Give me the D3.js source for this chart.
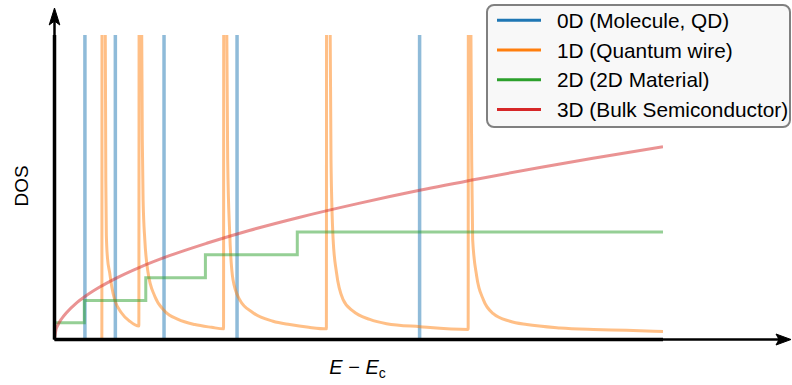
<!DOCTYPE html>
<html>
<head>
<meta charset="utf-8">
<script src="https://cdn.jsdelivr.net/npm/d3@7"></script>
<style>
  body { margin: 0; background: #fff; }
  text { font-family: "Liberation Sans", Arial, sans-serif; }
</style>
</head>
<body>
<div id="visual"></div>
<script>
// energy levels (E axis runs 0..10, DOS axis 0..10)
let levels0D = [0.5, 1.0, 1.8, 3.0, 6.0]

let wireE = [0, 0.778,
    0.782, 0.833, 0.843, 0.852, 0.870, 0.907, 0.944, 0.989, 1.099, 1.236, 1.386,
    1.392, 1.431, 1.443, 1.456, 1.484, 1.538, 1.648, 1.813, 2.031, 2.306, 2.581, 2.778,
    2.782, 2.829, 2.846, 2.879, 2.933, 3.043, 3.262, 3.591, 3.866, 4.178, 4.468,
    4.472, 4.528, 4.544, 4.579, 4.634, 4.743, 4.907, 5.182, 5.457, 6.005, 6.798,
    6.802, 6.841, 6.856, 6.872, 6.938, 7.047, 7.211, 7.486, 7.761, 8.308, 8.856, 9.399, 10.0]
let wireDOS = [0, 0,
    14, 10.82, 5.25, 3.44, 2.69, 2.19, 1.70, 1.31, 0.88, 0.60, 0.44,
    14, 10.82, 6.56, 4.59, 3.28, 2.19, 1.42, 0.93, 0.66, 0.49, 0.40, 0.35,
    14, 10.82, 5.9, 3.51, 1.97, 1.31, 0.88, 0.60, 0.49, 0.40, 0.35,
    14, 10.82, 5.9, 3.28, 2.20, 1.31, 0.93, 0.66, 0.52, 0.42, 0.33,
    14, 10.82, 5.9, 3.28, 2.08, 1.31, 0.85, 0.60, 0.49, 0.38, 0.33, 0.30, 0.26]

let stepE = [0, 0.49, 1.5, 2.48, 3.99, 10]
let stepDOS = [0.55, 1.28, 2.03, 2.78, 3.53, 3.53]

let bulkE = [0, 0.02, 0.06, 0.12, 0.2, 0.35, 0.5, 0.75, 1.0, 1.4, 1.9, 2.5, 3.2, 4.0, 5.0, 6.0, 7.0, 8.0, 9.0, 10.0]
let bulkDOS = [0, 0.28, 0.49, 0.69, 0.89, 1.18, 1.41, 1.73, 2.0, 2.37, 2.76, 3.16, 3.58, 4.0, 4.47, 4.9, 5.29, 5.66, 6.0, 6.33]

let seriesNames = ["0D (Molecule, QD)", "1D (Quantum wire)", "2D (2D Material)", "3D (Bulk Semiconductor)"]
let seriesColors = ["#1f77b4", "#ff7f0e", "#2ca02c", "#d62728"]

let width = 792, height = 385
let plotLeft = 54.5, plotRight = 663, plotTop = 35, plotBottom = 339.5

let svg = d3.select("#visual")
    .append("svg")
    .attr("width", width)
    .attr("height", height)

let x = d3.scaleLinear().domain([0, 10]).range([plotLeft, plotRight])
let y = d3.scaleLinear().domain([0, 10]).range([plotBottom, plotTop])

svg.append("clipPath")
    .attr("id", "plotclip")
    .append("rect")
    .attr("x", plotLeft)
    .attr("y", plotTop)
    .attr("width", plotRight - plotLeft)
    .attr("height", plotBottom - plotTop)

let plot = svg.append("g").attr("clip-path", "url(#plotclip)")

// 0D: discrete levels
plot.selectAll(".level")
    .data(levels0D)
    .enter()
    .append("line")
    .attr("x1", d => x(d))
    .attr("x2", d => x(d))
    .attr("y1", y(0))
    .attr("y2", y(10))
    .attr("stroke", seriesColors[0])
    .attr("stroke-opacity", 0.5)
    .attr("stroke-width", 3.5)

// 1D: van Hove peaks
let wirePts = wireE.map((e, i) => [e, wireDOS[i]])
plot.append("path")
    .attr("d", d3.line().x(d => x(d[0])).y(d => y(d[1])).curve(d3.curveMonotoneX)(wirePts))
    .attr("fill", "none")
    .attr("stroke", seriesColors[1])
    .attr("stroke-opacity", 0.5)
    .attr("stroke-width", 3)

// 2D: steps
let stepPts = stepE.map((e, i) => [e, stepDOS[i]])
plot.append("path")
    .attr("d", d3.line().x(d => x(d[0])).y(d => y(d[1])).curve(d3.curveStepAfter)(stepPts))
    .attr("fill", "none")
    .attr("stroke", seriesColors[2])
    .attr("stroke-opacity", 0.5)
    .attr("stroke-width", 3)

// 3D: sqrt-like bulk
let bulkPts = bulkE.map((e, i) => [e, bulkDOS[i]])
plot.append("path")
    .attr("d", d3.line().x(d => x(d[0])).y(d => y(d[1])).curve(d3.curveMonotoneX)(bulkPts))
    .attr("fill", "none")
    .attr("stroke", seriesColors[3])
    .attr("stroke-opacity", 0.5)
    .attr("stroke-width", 3)

// spines + arrows
svg.append("line")
    .attr("x1", plotLeft).attr("y1", plotBottom).attr("x2", plotRight).attr("y2", plotBottom)
    .attr("stroke", "black").attr("stroke-width", 3.5)
svg.append("line")
    .attr("x1", plotLeft).attr("y1", plotBottom).attr("x2", plotLeft).attr("y2", plotTop)
    .attr("stroke", "black").attr("stroke-width", 3.5)

svg.append("line")
    .attr("x1", plotLeft).attr("y1", plotBottom).attr("x2", 780).attr("y2", plotBottom)
    .attr("stroke", "black").attr("stroke-width", 2.5)
svg.append("path")
    .attr("d", "M 791 " + plotBottom + " L 776 " + (plotBottom - 5.5) + " L 779 " + plotBottom + " L 776 " + (plotBottom + 5.5) + " Z")
    .attr("fill", "black").attr("stroke", "black").attr("stroke-width", 1)

svg.append("line")
    .attr("x1", plotLeft).attr("y1", plotBottom).attr("x2", plotLeft).attr("y2", 20)
    .attr("stroke", "black").attr("stroke-width", 2.5)
svg.append("path")
    .attr("d", "M " + plotLeft + " 8 L " + (plotLeft - 5.3) + " 25 L " + plotLeft + " 21 L " + (plotLeft + 5.3) + " 25 Z")
    .attr("fill", "black").attr("stroke", "black").attr("stroke-width", 1)

// axis labels
svg.append("text")
    .attr("transform", "translate(28,186) rotate(-90)")
    .attr("text-anchor", "middle")
    .attr("font-size", 19)
    .text("DOS")

let xl = svg.append("text")
    .attr("x", 357.5)
    .attr("y", 374)
    .attr("text-anchor", "middle")
    .attr("font-size", 20)
xl.append("tspan").attr("font-style", "italic").text("E")
xl.append("tspan").text(" \u2212 ")
xl.append("tspan").attr("font-style", "italic").text("E")
xl.append("tspan").attr("font-size", 14).attr("dy", 4).text("c")

// legend
let legend = svg.append("g")
legend.append("rect")
    .attr("x", 487)
    .attr("y", 5)
    .attr("width", 303)
    .attr("height", 122)
    .attr("rx", 7)
    .attr("fill", "#f8f8f8")
    .attr("stroke", "#808080")
    .attr("stroke-width", 2)

let rows = legend.selectAll(".row")
    .data(seriesNames)
    .enter()
    .append("g")
    .attr("transform", (d, i) => "translate(0," + (20.3 + i * 29.7) + ")")

rows.append("line")
    .attr("x1", 497)
    .attr("x2", 541)
    .attr("stroke", (d, i) => seriesColors[i])
    .attr("stroke-width", 3)

rows.append("text")
    .attr("x", 557)
    .attr("y", 7.5)
    .attr("font-size", 20.8)
    .text(d => d)
</script>
</body>
</html>
